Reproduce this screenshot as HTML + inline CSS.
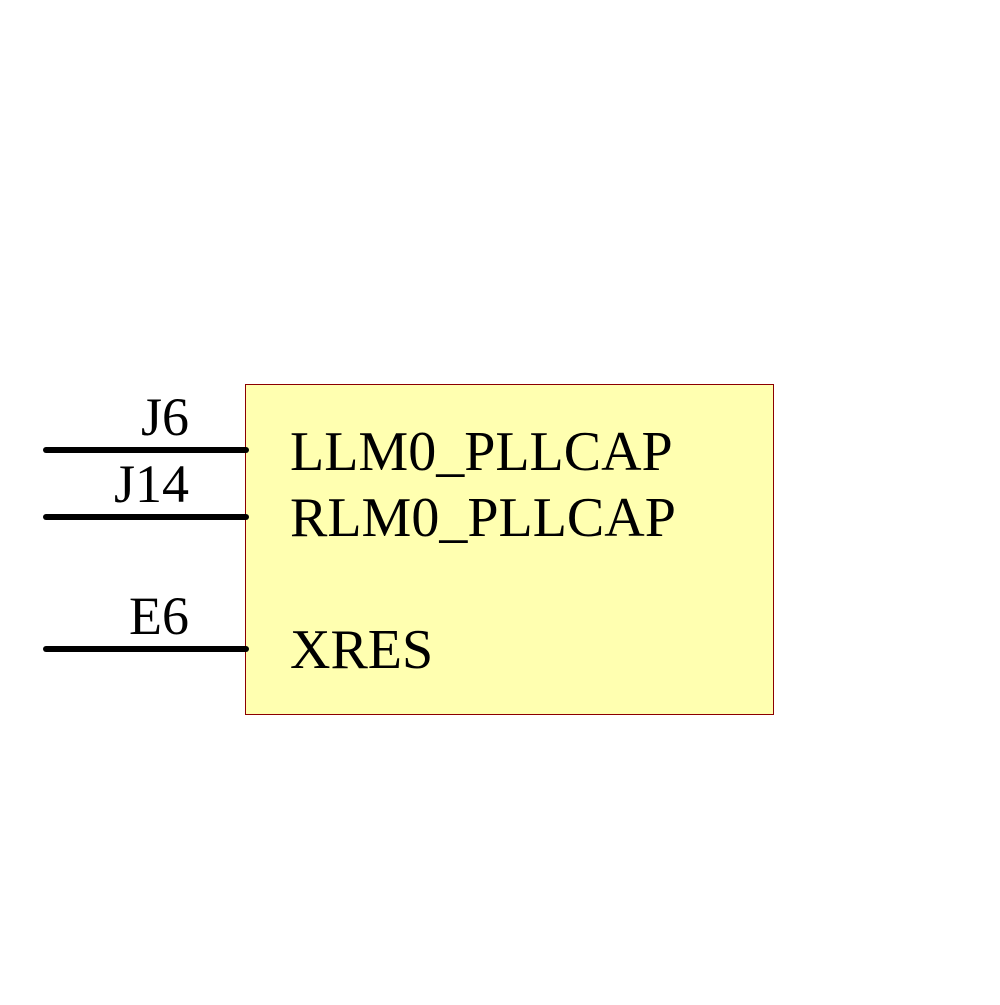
<!DOCTYPE html>
<html><head><style>html,body{margin:0;padding:0;background:#fff;}</style></head>
<body>
<svg width="1000" height="1000" viewBox="0 0 1000 1000" xmlns="http://www.w3.org/2000/svg">
<rect x="245.5" y="384.5" width="528" height="330" fill="#FFFFB0" stroke="#8B0000" stroke-width="1"/>
<g stroke="#000" stroke-width="6" stroke-linecap="round">
<line x1="46" y1="450" x2="246" y2="450"/>
<line x1="46" y1="517" x2="246" y2="517"/>
<line x1="46" y1="649" x2="246" y2="649"/>
</g>
<g font-family="Liberation Serif, serif" fill="#000">
<text x="189" y="435" font-size="54" text-anchor="end">J6</text>
<text x="189" y="502" font-size="54" text-anchor="end">J14</text>
<text x="189" y="634" font-size="54" text-anchor="end">E6</text>
<text x="290" y="470" font-size="56">LLM0_PLLCAP</text>
<text x="290" y="536" font-size="56">RLM0_PLLCAP</text>
<text x="290" y="668" font-size="56">XRES</text>
</g>
</svg>
</body></html>
